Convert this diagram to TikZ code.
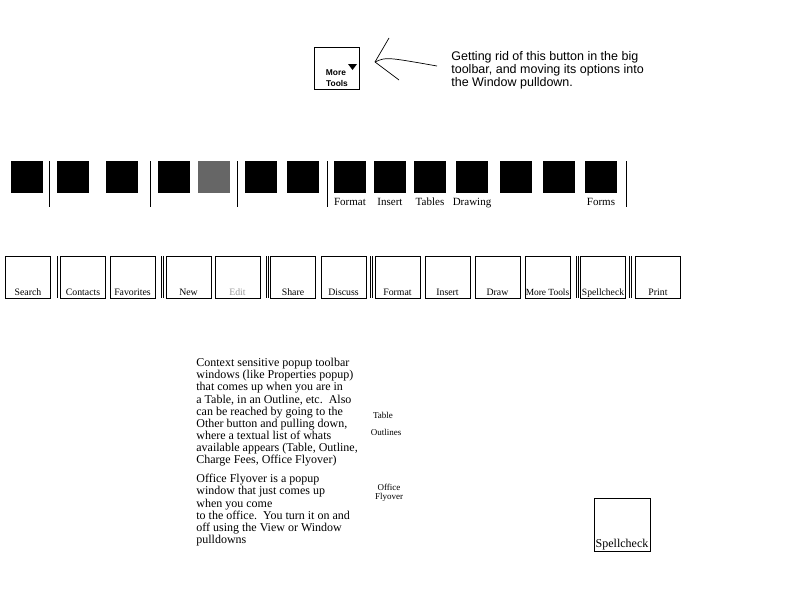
\documentclass[tikz,border=0pt]{standalone}
\usepackage{fontspec}
\setmainfont{Liberation Serif}
\newfontfamily\arialfont{Liberation Sans}
\usepackage{tikz}
\usetikzlibrary{arrows,positioning}

\begin{document}
\begin{tikzpicture}[x=1pt,y=-1pt,line width=0.7pt,
			icon/.style={fill=black,minimum size=32pt,inner sep=0pt},
			grey icon/.style={icon,fill=black!60},
			barlbl/.style={font=\fontsize{11}{11}\selectfont,label distance=1.5pt,text height=0.7em,text depth=0.22em},
			tool node/.style={draw,line width=0.8pt,minimum width=45pt,inner xsep=0pt,inner ysep=1pt,
				text height=38pt,text depth=2pt,font=\fontsize{9.8}{9.8}\selectfont},
			sep/.style={line width=0.9pt},
			dsep/.style={double,double distance=1.6pt,line width=0.6pt},
			note/.style={align=left,inner sep=0pt,anchor=north west},
			small lbl/.style={align=center,inner sep=0pt,font=\fontsize{9}{9.5}\selectfont}]

			\useasboundingbox[fill=white] (0,0) rectangle (800,600);

			% the button that goes away
			\node[draw,line width=0.8pt,minimum width=45pt,minimum height=42pt] (moretools) at (336.5,68) {};
			\node[inner sep=0pt,font=\arialfont\bfseries\fontsize{8.4}{8.4}\selectfont] (more) at (336,73) {More};
			\node[inner sep=0pt,font=\arialfont\bfseries\fontsize{8.4}{8.4}\selectfont] (tools) at (337,83) {Tools};
			\fill (348,64) -- (357,64) -- (352.5,70) -- cycle;

			\coordinate (tip) at (375,62);
			\coordinate (up) at (389,38);
			\coordinate (down) at (399,80);
			\coordinate (tail) at (437,66);
			\draw (up) -- (tip) -- (down);
			\draw (tip) .. controls (386,57) .. (tail);

			\node[note,font=\arialfont\fontsize{12.5}{13}\selectfont] (goal) at (451,51)
				{Getting rid of this button in the big\\toolbar, and moving its options into\\the Window pulldown.};

			% big toolbar
			\node[icon] (b1) at (27,177) {};
			\node[icon] (b2) at (73,177) {};
			\node[icon] (b3) at (122,177) {};
			\node[icon] (b4) at (174,177) {};
			\node[grey icon] (b5) at (214,177) {};
			\node[icon] (b6) at (261,177) {};
			\node[icon] (b7) at (303,177) {};
			\node[icon,label={[barlbl]below:Format}] (format) at (350,177) {};
			\node[icon,label={[barlbl]below:Insert}] (insert) at (390,177) {};
			\node[icon,label={[barlbl]below:Tables}] (tables) at (430,177) {};
			\node[icon,label={[barlbl]below:Drawing}] (drawing) at (472,177) {};
			\node[icon] (b12) at (516,177) {};
			\node[icon] (b13) at (559,177) {};
			\node[icon,label={[barlbl]below:Forms}] (forms) at (601,177) {};

			\draw[sep] (49.5,161) -- (49.5,207);
			\draw[sep] (150,161) -- (150,207);
			\draw[sep] (237,161) -- (237,207);
			\draw[sep] (327,161) -- (327,207);
			\draw[sep] (626,161) -- (626,207);

			% new toolbar
			\node[tool node] (search) at (28,277) {Search};
			\node[tool node] (contacts) at (83,277) {Contacts};
			\node[tool node] (favorites) at (132.5,277) {Favorites};
			\node[tool node] (new) at (188.5,277) {New};
			\node[tool node,text=black!40] (edit) at (237.5,277) {Edit};
			\node[tool node] (share) at (293,277) {Share};
			\node[tool node] (discuss) at (343.5,277) {Discuss};
			\node[tool node] (tformat) at (397.5,277) {Format};
			\node[tool node] (tinsert) at (447.5,277) {Insert};
			\node[tool node] (draw) at (497.5,277) {Draw};
			\node[tool node,font=\fontsize{9.4}{9.4}\selectfont] (tmore) at (547.5,277) {More Tools};
			\node[tool node,font=\fontsize{9.6}{9.6}\selectfont] (spelling) at (603,277) {Spellcheck};
			\node[tool node] (print) at (658,277) {Print};

			\draw[dsep] (56.2,256) -- (56.2,298);
			\draw[dsep] (162.3,256) -- (162.3,298);
			\draw[dsep] (267.3,256) -- (267.3,298);
			\draw[dsep] (371.5,256) -- (371.5,298);
			\draw[dsep] (577.3,256) -- (577.3,298);
			\draw[dsep] (630.5,256) -- (630.5,298);

			% popups
			\node[note,font=\fontsize{12}{12.15}\selectfont] (context) at (196,358)
				{Context sensitive popup toolbar\\windows (like Properties popup)\\that comes up when you are in\\a Table, in an Outline, etc.\ \ Also\\can be reached by going to the\\Other button and pulling down,\\where a textual list of whats\\available appears (Table, Outline,\\Charge Fees, Office Flyover)};
			\node[note,font=\fontsize{12}{12.15}\selectfont] (flyover) at (196,474)
				{Office Flyover is a popup\\window that just comes up\\when you come\\to the office.\ \ You turn it on and\\off using the View or Window\\pulldowns};

			\node[small lbl] (table) at (383,415) {Table};
			\node[small lbl] (outlines) at (386,432) {Outlines};
			\node[small lbl] (office) at (389,493) {Office\\Flyover};

			\node[draw,line width=0.8pt,minimum width=56pt,inner xsep=0pt,inner ysep=1pt,
				text height=48pt,text depth=3pt,font=\fontsize{12}{12}\selectfont] (spellcheck) at (622,524.5) {Spellcheck};

		\end{tikzpicture}
\end{document}
